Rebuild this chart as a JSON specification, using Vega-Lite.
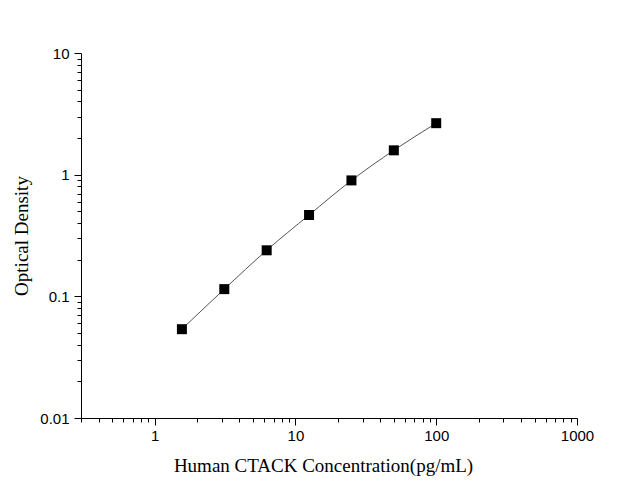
{
  "$schema": "https://vega.github.io/schema/vega-lite/v6.json",
  "description": "Standard curve, Human CTACK ELISA",
  "autosize": "none",
  "width": 496,
  "height": 365,
  "padding": {"left": 81, "top": 53, "right": 52, "bottom": 70},
  "background": "white",
  "data": {
    "values": [
      {"conc": 1.5625, "od": 0.0537},
      {"conc": 3.125, "od": 0.1146},
      {"conc": 6.25, "od": 0.239},
      {"conc": 12.5, "od": 0.466},
      {"conc": 25, "od": 0.897},
      {"conc": 50, "od": 1.585},
      {"conc": 100, "od": 2.65}
    ]
  },
  "encoding": {
    "x": {
      "field": "conc",
      "type": "quantitative",
      "title": "Human CTACK Concentration(pg/mL)",
      "scale": {"type": "log", "domain": [0.3, 1000], "nice": false},
      "axis": {
        "values": [0.3, 0.4, 0.5, 0.6, 0.7, 0.8, 0.9, 1, 2, 3, 4, 5, 6, 7, 8, 9, 10, 20, 30, 40, 50, 60, 70, 80, 90, 100, 200, 300, 400, 500, 600, 700, 800, 900, 1000],
        "labelExpr": "abs(log(datum.value)/LN10 - round(log(datum.value)/LN10)) < 0.000001 ? format(datum.value, '~g') : ''",
        "tickSize": {"condition": {"test": "abs(log(datum.value)/LN10 - round(log(datum.value)/LN10)) < 0.000001", "value": 7}, "value": 4},
        "labelPadding": 3,
        "titlePadding": 13,
        "titleX": 242
      }
    },
    "y": {
      "field": "od",
      "type": "quantitative",
      "title": "Optical Density",
      "scale": {"type": "log", "domain": [0.01, 10], "nice": false},
      "axis": {
        "values": [0.01, 0.02, 0.03, 0.04, 0.05, 0.06, 0.07, 0.08, 0.09, 0.1, 0.2, 0.3, 0.4, 0.5, 0.6, 0.7, 0.8, 0.9, 1, 2, 3, 4, 5, 6, 7, 8, 9, 10],
        "labelExpr": "abs(log(datum.value)/LN10 - round(log(datum.value)/LN10)) < 0.000001 ? format(datum.value, '~g') : ''",
        "tickSize": {"condition": {"test": "abs(log(datum.value)/LN10 - round(log(datum.value)/LN10)) < 0.000001", "value": 7}, "value": 4},
        "labelPadding": 5,
        "titlePadding": 8
      }
    }
  },
  "layer": [
    {
      "mark": {"type": "line", "interpolate": "monotone", "color": "#555555", "strokeWidth": 1}
    },
    {
      "mark": {"type": "square", "size": 100, "color": "black", "opacity": 1, "filled": true}
    }
  ],
  "config": {
    "view": {"stroke": null},
    "axis": {
      "grid": false,
      "domainColor": "black",
      "domainWidth": 1,
      "tickColor": "black",
      "tickWidth": 1,
      "labelColor": "black",
      "labelFont": "Liberation Sans",
      "labelFontSize": 15,
      "labelFlush": false,
      "labelOverlap": false,
      "titleColor": "black",
      "titleFont": "Liberation Serif",
      "titleFontSize": 19,
      "titleFontWeight": "normal"
    }
  }
}
